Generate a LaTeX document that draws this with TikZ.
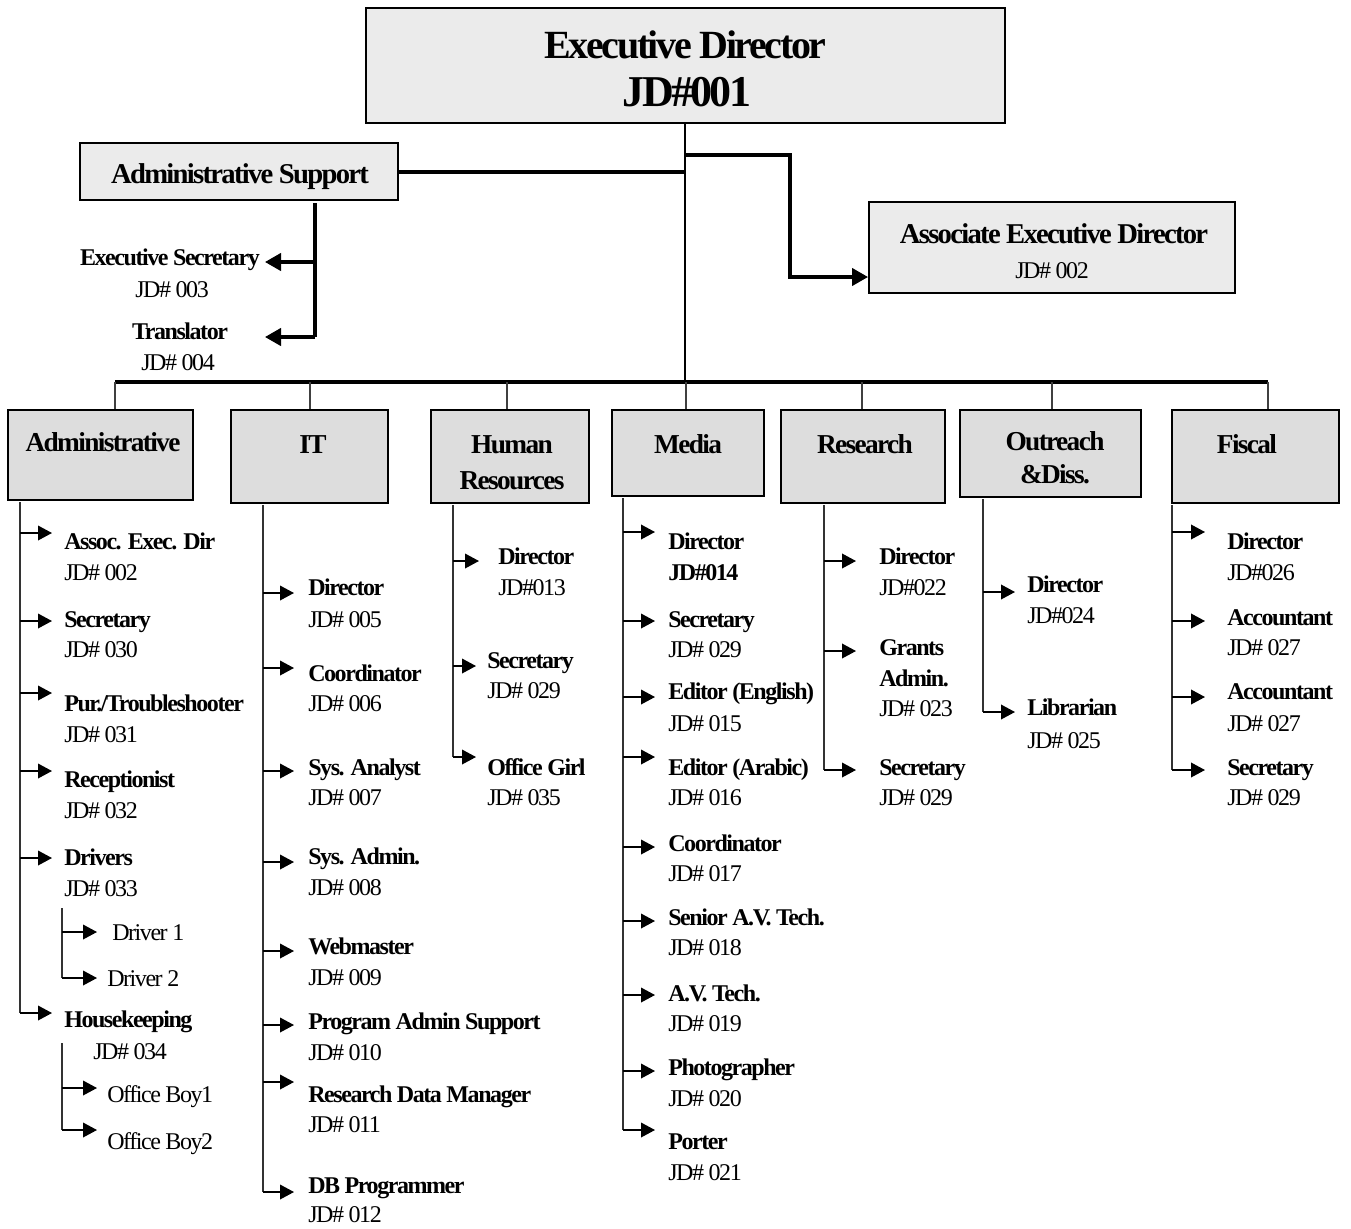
\documentclass[tikz,border=0pt]{standalone}
\usepackage{fontspec}
\setmainfont{Liberation Serif}
\newfontfamily\tightfont{Liberation Serif}[LetterSpace=-6]
\usetikzlibrary{arrows.meta,fit}

% one staff entry: arrow from the branch line, bold title, JD number
% #1 id, #2 branch x, #3 arrow y, #4 tip x, #5 text x, #6 title y, #7 JD y, #8 title, #9 JD
\newcommand\jobrole[9]{%
  \coordinate (#1s) at (#2,#3);
  \coordinate (#1t) at (#4,#3);
  \draw[arr] (#1s) -- (#1t);
  \node[rname] (#1) at (#5,#6+8) {#8};
  \node[rjd] (#1j) at (#5,#7+8) {#9};
}

\begin{document}
\begin{tikzpicture}[x=0.75pt,y=-0.75pt,
  box/.style={draw=black,line width=1.6pt,inner sep=0pt},
  topfill/.style={fill=gray!16},
  deptfill/.style={fill=gray!27},
  title/.style={font=\tightfont\bfseries\fontsize{30}{34}\selectfont,inner sep=0pt,anchor=base},
  mid/.style={font=\tightfont\bfseries\fontsize{21.5}{24}\selectfont,inner sep=0pt,anchor=base},
  dept/.style={font=\tightfont\bfseries\fontsize{20.5}{24}\selectfont,inner sep=0pt,anchor=base},
  rname/.style={font=\tightfont\bfseries\fontsize{18}{20}\selectfont,inner sep=0pt,anchor=base west},
  rjd/.style={font=\tightfont\fontsize{18}{20}\selectfont,inner sep=0pt,anchor=base west},
  heavy/.style={line width=3pt,black},
  trunk/.style={line width=1.4pt,black},
  drop/.style={line width=1pt,black!75},
  branch/.style={line width=1.3pt,black!80},
  arr/.style={line width=1.1pt,black,-{Triangle[length=10.5pt,width=11pt]}},
  arrbold/.style={line width=2.4pt,black,-{Triangle[length=12pt,width=13pt]}}]

\useasboundingbox (0,0) rectangle (1351,1228);

% ---------- top level ----------
\node[box,topfill,fit={(366,8) (1005,123)}] (exec) {};
\node[title] (execa) at (685.5,58) {Executive Director};
\node[title,font=\tightfont\bfseries\fontsize{33}{36}\selectfont] (execb) at (687,106) {JD\#001};

\node[box,topfill,fit={(80,143) (398,200)}] (adms) {};
\node[mid] (admsa) at (240,183) {Administrative Support};

\node[box,topfill,fit={(869,202) (1235,293)}] (assoc) {};
\node[mid] (assoca) at (1054,243) {Associate Executive Director};
\node[rjd,anchor=base] (assocb) at (1052,278) {JD\# 002};

% trunk and links
\coordinate (busL) at (115,382);
\coordinate (busR) at (1268,382);
\draw[trunk] (exec.south -| 685,0) -- (685,382);
\draw[heavy] (adms.east) -- (685,171.5);
\coordinate (jassoc) at (685,155);
\coordinate (kassoc) at (790,155);
\coordinate (lassoc) at (790,277);
\coordinate (tassoc) at (868,277);
\draw[arrbold] (jassoc) -- (kassoc) -- (lassoc) -- (tassoc);

% administrative support staff
\coordinate (sA) at (315,203);
\coordinate (sB) at (315,262);
\coordinate (sC) at (315,337);
\coordinate (tB) at (265,262);
\coordinate (tC) at (265,337);
\draw[line width=2.4pt] (sA) -- (sC);
\draw[arrbold] (sB) -- (tB);
\draw[arrbold] (sC) -- (tC);
\node[rname,anchor=base east] (esec) at (260,265) {Executive Secretary};
\node[rjd,anchor=base] (esecj) at (172,297) {JD\# 003};
\node[rname,anchor=base] (trans) at (180,339) {Translator};
\node[rjd,anchor=base] (transj) at (178,370) {JD\# 004};

% bus
\draw[line width=2.6pt] (busL) -- (busR);

% ---------- departments ----------
\node[box,deptfill,fit={(8,410) (193,500)}] (dadm) {};
\node[box,deptfill,fit={(231,410) (388,503)}] (dit) {};
\node[box,deptfill,fit={(431,410) (589,503)}] (dhr) {};
\node[box,deptfill,fit={(612,410) (764,496)}] (dmed) {};
\node[box,deptfill,fit={(781,410) (945,503)}] (dres) {};
\node[box,deptfill,fit={(960,410) (1141,497)}] (dout) {};
\node[box,deptfill,fit={(1172,410) (1339,503)}] (dfis) {};

\foreach \d/\x in {dadm/115,dit/310,dhr/507,dmed/686,dres/862,dout/1052,dfis/1268}
  \draw[drop] (\x,382) -- (\d.north -| \x,0);

\node[dept] (tadm) at (103,451) {Administrative};
\node[dept] (tit) at (313,453) {IT};
\node[dept] (thr) at (512,453) {Human};
\node[dept] (thr2) at (512,489) {Resources};
\node[dept] (tmed) at (688,453) {Media};
\node[dept] (tres) at (865,453) {Research};
\node[dept] (tout) at (1055,450) {Outreach};
\node[dept] (tout2) at (1055,483) {\&Diss.};
\node[dept] (tfis) at (1247,453) {Fiscal};

% ---------- Administrative ----------
\draw[branch] (20,502) -- (20,1013);
\jobrole{a1}{20}{533}{52}{64}{541}{572}{Assoc. Exec. Dir}{JD\# 002}
\jobrole{a2}{20}{621}{52}{64}{619}{649}{Secretary}{JD\# 030}
\jobrole{a3}{20}{693}{52}{64}{703}{734}{Pur./Troubleshooter}{JD\# 031}
\jobrole{a4}{20}{771}{52}{64}{779}{810}{Receptionist}{JD\# 032}
\jobrole{a5}{20}{858}{52}{64}{857}{888}{Drivers}{JD\# 033}
\coordinate (a6s) at (20,1013);
\coordinate (a6t) at (52,1013);
\draw[arr] (a6s) -- (a6t);
\node[rname] (a6) at (64,1027) {Housekeeping};
\node[rjd] (a6j) at (93,1059) {JD\# 034};

\coordinate (dv0) at (62,908);
\coordinate (dv1) at (62,932);
\coordinate (dv2) at (62,978);
\coordinate (dt1) at (97,932);
\coordinate (dt2) at (97,978);
\draw[branch] (dv0) -- (dv2);
\draw[arr] (dv1) -- (dt1);
\draw[arr] (dv2) -- (dt2);
\node[rjd] (drv1) at (112,940) {Driver 1};
\node[rjd] (drv2) at (107,986) {Driver 2};

\coordinate (ov0) at (62,1043);
\coordinate (ov1) at (62,1088);
\coordinate (ov2) at (62,1130);
\coordinate (ot1) at (97,1088);
\coordinate (ot2) at (97,1130);
\draw[branch] (ov0) -- (ov2);
\draw[arr] (ov1) -- (ot1);
\draw[arr] (ov2) -- (ot2);
\node[rjd] (ob1) at (107,1102) {Office Boy1};
\node[rjd] (ob2) at (107,1149) {Office Boy2};

% ---------- IT ----------
\draw[branch] (263,505) -- (263,1192);
\jobrole{i1}{263}{593}{294}{308}{587}{619}{Director}{JD\# 005}
\jobrole{i2}{263}{668}{294}{308}{673}{703}{Coordinator}{JD\# 006}
\jobrole{i3}{263}{771}{294}{308}{767}{797}{Sys. Analyst}{JD\# 007}
\jobrole{i4}{263}{862}{294}{308}{856}{887}{Sys. Admin.}{JD\# 008}
\jobrole{i5}{263}{951}{294}{308}{946}{977}{Webmaster}{JD\# 009}
\jobrole{i6}{263}{1025}{294}{308}{1021}{1052}{Program Admin Support}{JD\# 010}
\jobrole{i7}{263}{1082}{294}{308}{1094}{1124}{Research Data Manager}{JD\# 011}
\jobrole{i8}{263}{1192}{294}{308}{1185}{1214}{DB Programmer}{JD\# 012}

% ---------- Human Resources ----------
\draw[branch] (453,505) -- (453,757);
\jobrole{h1}{453}{561}{479}{498}{556}{587}{Director}{JD\#013}
\jobrole{h2}{453}{666}{476}{487}{660}{690}{Secretary}{JD\# 029}
\jobrole{h3}{453}{757}{476}{487}{767}{797}{Office Girl}{JD\# 035}

% ---------- Media ----------
\draw[branch] (623,498) -- (623,1130);
\jobrole{m1}{623}{532}{655}{668}{541}{572}{Director}{\bfseries JD\#014}
\jobrole{m2}{623}{621}{655}{668}{619}{649}{Secretary}{JD\# 029}
\jobrole{m3}{623}{697}{655}{668}{691}{723}{Editor (English)}{JD\# 015}
\jobrole{m4}{623}{757}{655}{668}{767}{797}{Editor (Arabic)}{JD\# 016}
\jobrole{m5}{623}{847}{655}{668}{843}{873}{Coordinator}{JD\# 017}
\jobrole{m6}{623}{921}{655}{668}{917}{947}{Senior A.V. Tech.}{JD\# 018}
\jobrole{m7}{623}{995}{655}{668}{993}{1023}{A.V. Tech.}{JD\# 019}
\jobrole{m8}{623}{1071}{655}{668}{1067}{1098}{Photographer}{JD\# 020}
\jobrole{m9}{623}{1130}{655}{668}{1141}{1172}{Porter}{JD\# 021}

% ---------- Research ----------
\draw[branch] (824,505) -- (824,770);
\jobrole{r1}{824}{561}{856}{879}{556}{587}{Director}{JD\#022}
\coordinate (r2s) at (824,651);
\coordinate (r2t) at (856,651);
\draw[arr] (r2s) -- (r2t);
\node[rname] (r2) at (879,655) {Grants};
\node[rname] (r2b) at (879,686) {Admin.};
\node[rjd] (r2j) at (879,716) {JD\# 023};
\jobrole{r3}{824}{770}{856}{879}{767}{797}{Secretary}{JD\# 029}

% ---------- Outreach & Dissemination ----------
\draw[branch] (983,499) -- (983,712);
\jobrole{o1}{983}{592}{1015}{1027}{584}{615}{Director}{JD\#024}
\jobrole{o2}{983}{712}{1015}{1027}{707}{740}{Librarian}{JD\# 025}

% ---------- Fiscal ----------
\draw[branch] (1172,505) -- (1172,770);
\jobrole{f1}{1172}{532}{1205}{1227}{541}{572}{Director}{JD\#026}
\jobrole{f2}{1172}{621}{1205}{1227}{617}{647}{Accountant}{JD\# 027}
\jobrole{f3}{1172}{697}{1205}{1227}{691}{723}{Accountant}{JD\# 027}
\jobrole{f4}{1172}{770}{1205}{1227}{767}{797}{Secretary}{JD\# 029}

\end{tikzpicture}
\end{document}
